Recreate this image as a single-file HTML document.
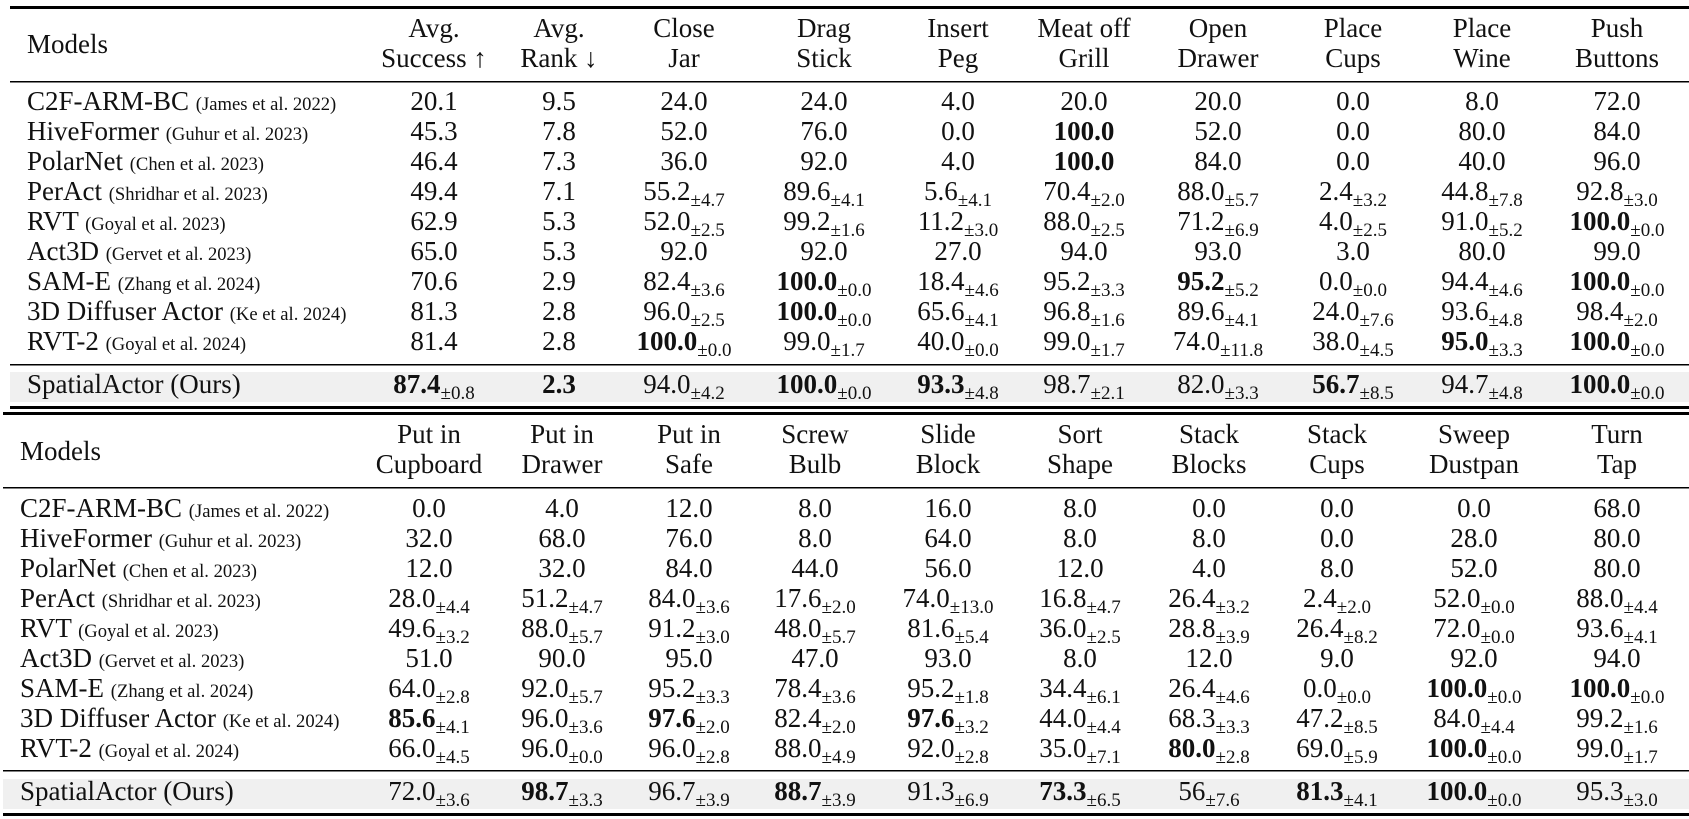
<!DOCTYPE html>
<html><head><meta charset="utf-8"><style>
html,body{margin:0;padding:0;background:#fff;}
svg{display:block;}
text{font-family:"Liberation Serif",serif;font-size:27px;fill:#111;}
.c text{text-anchor:middle;}
.s{font-size:19px;}
.b{font-weight:bold;}
.cit{font-size:18.6px;}
</style></head><body>
<svg width="1689" height="819" xmlns="http://www.w3.org/2000/svg">
<rect x="10" y="6" width="1679" height="3" fill="#000"/>
<rect x="10" y="81" width="1679" height="1.5" fill="#000"/>
<rect x="10" y="364" width="1679" height="1.5" fill="#000"/>
<rect x="10" y="372" width="1679" height="30" fill="#f0f0f0"/>
<rect x="10" y="406" width="1679" height="3" fill="#000"/>
<rect x="3" y="412" width="1686" height="3" fill="#000"/>
<rect x="3" y="487" width="1686" height="1.5" fill="#000"/>
<rect x="3" y="770" width="1686" height="1.5" fill="#000"/>
<rect x="3" y="779" width="1686" height="30" fill="#f0f0f0"/>
<rect x="3" y="813" width="1686" height="3" fill="#000"/>

<!-- top table -->
<text x="27" y="53">Models</text>
<g class="c">
<text x="434" y="37">Avg.</text><text x="434" y="67">Success ↑</text>
<text x="559" y="37">Avg.</text><text x="559" y="67">Rank ↓</text>
<text x="684" y="37">Close</text><text x="684" y="67">Jar</text>
<text x="824" y="37">Drag</text><text x="824" y="67">Stick</text>
<text x="958" y="37">Insert</text><text x="958" y="67">Peg</text>
<text x="1084" y="37">Meat off</text><text x="1084" y="67">Grill</text>
<text x="1218" y="37">Open</text><text x="1218" y="67">Drawer</text>
<text x="1353" y="37">Place</text><text x="1353" y="67">Cups</text>
<text x="1482" y="37">Place</text><text x="1482" y="67">Wine</text>
<text x="1617" y="37">Push</text><text x="1617" y="67">Buttons</text>
</g>

<text x="27" y="110">C2F-ARM-BC <tspan class="cit">(James et al. 2022)</tspan></text>
<text x="27" y="140">HiveFormer <tspan class="cit">(Guhur et al. 2023)</tspan></text>
<text x="27" y="170">PolarNet <tspan class="cit">(Chen et al. 2023)</tspan></text>
<text x="27" y="200">PerAct <tspan class="cit">(Shridhar et al. 2023)</tspan></text>
<text x="27" y="230">RVT <tspan class="cit">(Goyal et al. 2023)</tspan></text>
<text x="27" y="260">Act3D <tspan class="cit">(Gervet et al. 2023)</tspan></text>
<text x="27" y="290">SAM-E <tspan class="cit">(Zhang et al. 2024)</tspan></text>
<text x="27" y="320">3D Diffuser Actor <tspan class="cit">(Ke et al. 2024)</tspan></text>
<text x="27" y="350">RVT-2 <tspan class="cit">(Goyal et al. 2024)</tspan></text>
<text x="27" y="393">SpatialActor (Ours)</text>

<g class="c">
<text x="434" y="110">20.1</text><text x="559" y="110">9.5</text><text x="684" y="110">24.0</text><text x="824" y="110">24.0</text><text x="958" y="110">4.0</text><text x="1084" y="110">20.0</text><text x="1218" y="110">20.0</text><text x="1353" y="110">0.0</text><text x="1482" y="110">8.0</text><text x="1617" y="110">72.0</text>
<text x="434" y="140">45.3</text><text x="559" y="140">7.8</text><text x="684" y="140">52.0</text><text x="824" y="140">76.0</text><text x="958" y="140">0.0</text><text x="1084" y="140" class="b">100.0</text><text x="1218" y="140">52.0</text><text x="1353" y="140">0.0</text><text x="1482" y="140">80.0</text><text x="1617" y="140">84.0</text>
<text x="434" y="170">46.4</text><text x="559" y="170">7.3</text><text x="684" y="170">36.0</text><text x="824" y="170">92.0</text><text x="958" y="170">4.0</text><text x="1084" y="170" class="b">100.0</text><text x="1218" y="170">84.0</text><text x="1353" y="170">0.0</text><text x="1482" y="170">40.0</text><text x="1617" y="170">96.0</text>
<text x="434" y="200">49.4</text><text x="559" y="200">7.1</text>
<text x="684" y="200">55.2<tspan class="s" dy="6">±4.7</tspan></text>
<text x="824" y="200">89.6<tspan class="s" dy="6">±4.1</tspan></text>
<text x="958" y="200">5.6<tspan class="s" dy="6">±4.1</tspan></text>
<text x="1084" y="200">70.4<tspan class="s" dy="6">±2.0</tspan></text>
<text x="1218" y="200">88.0<tspan class="s" dy="6">±5.7</tspan></text>
<text x="1353" y="200">2.4<tspan class="s" dy="6">±3.2</tspan></text>
<text x="1482" y="200">44.8<tspan class="s" dy="6">±7.8</tspan></text>
<text x="1617" y="200">92.8<tspan class="s" dy="6">±3.0</tspan></text>
<text x="434" y="230">62.9</text><text x="559" y="230">5.3</text>
<text x="684" y="230">52.0<tspan class="s" dy="6">±2.5</tspan></text>
<text x="824" y="230">99.2<tspan class="s" dy="6">±1.6</tspan></text>
<text x="958" y="230">11.2<tspan class="s" dy="6">±3.0</tspan></text>
<text x="1084" y="230">88.0<tspan class="s" dy="6">±2.5</tspan></text>
<text x="1218" y="230">71.2<tspan class="s" dy="6">±6.9</tspan></text>
<text x="1353" y="230">4.0<tspan class="s" dy="6">±2.5</tspan></text>
<text x="1482" y="230">91.0<tspan class="s" dy="6">±5.2</tspan></text>
<text x="1617" y="230"><tspan class="b">100.0</tspan><tspan class="s" dy="6">±0.0</tspan></text>
<text x="434" y="260">65.0</text><text x="559" y="260">5.3</text><text x="684" y="260">92.0</text><text x="824" y="260">92.0</text><text x="958" y="260">27.0</text><text x="1084" y="260">94.0</text><text x="1218" y="260">93.0</text><text x="1353" y="260">3.0</text><text x="1482" y="260">80.0</text><text x="1617" y="260">99.0</text>
<text x="434" y="290">70.6</text><text x="559" y="290">2.9</text>
<text x="684" y="290">82.4<tspan class="s" dy="6">±3.6</tspan></text>
<text x="824" y="290"><tspan class="b">100.0</tspan><tspan class="s" dy="6">±0.0</tspan></text>
<text x="958" y="290">18.4<tspan class="s" dy="6">±4.6</tspan></text>
<text x="1084" y="290">95.2<tspan class="s" dy="6">±3.3</tspan></text>
<text x="1218" y="290"><tspan class="b">95.2</tspan><tspan class="s" dy="6">±5.2</tspan></text>
<text x="1353" y="290">0.0<tspan class="s" dy="6">±0.0</tspan></text>
<text x="1482" y="290">94.4<tspan class="s" dy="6">±4.6</tspan></text>
<text x="1617" y="290"><tspan class="b">100.0</tspan><tspan class="s" dy="6">±0.0</tspan></text>
<text x="434" y="320">81.3</text><text x="559" y="320">2.8</text>
<text x="684" y="320">96.0<tspan class="s" dy="6">±2.5</tspan></text>
<text x="824" y="320"><tspan class="b">100.0</tspan><tspan class="s" dy="6">±0.0</tspan></text>
<text x="958" y="320">65.6<tspan class="s" dy="6">±4.1</tspan></text>
<text x="1084" y="320">96.8<tspan class="s" dy="6">±1.6</tspan></text>
<text x="1218" y="320">89.6<tspan class="s" dy="6">±4.1</tspan></text>
<text x="1353" y="320">24.0<tspan class="s" dy="6">±7.6</tspan></text>
<text x="1482" y="320">93.6<tspan class="s" dy="6">±4.8</tspan></text>
<text x="1617" y="320">98.4<tspan class="s" dy="6">±2.0</tspan></text>
<text x="434" y="350">81.4</text><text x="559" y="350">2.8</text>
<text x="684" y="350"><tspan class="b">100.0</tspan><tspan class="s" dy="6">±0.0</tspan></text>
<text x="824" y="350">99.0<tspan class="s" dy="6">±1.7</tspan></text>
<text x="958" y="350">40.0<tspan class="s" dy="6">±0.0</tspan></text>
<text x="1084" y="350">99.0<tspan class="s" dy="6">±1.7</tspan></text>
<text x="1218" y="350">74.0<tspan class="s" dy="6">±11.8</tspan></text>
<text x="1353" y="350">38.0<tspan class="s" dy="6">±4.5</tspan></text>
<text x="1482" y="350"><tspan class="b">95.0</tspan><tspan class="s" dy="6">±3.3</tspan></text>
<text x="1617" y="350"><tspan class="b">100.0</tspan><tspan class="s" dy="6">±0.0</tspan></text>
<text x="434" y="393"><tspan class="b">87.4</tspan><tspan class="s" dy="6">±0.8</tspan></text>
<text x="559" y="393" class="b">2.3</text>
<text x="684" y="393">94.0<tspan class="s" dy="6">±4.2</tspan></text>
<text x="824" y="393"><tspan class="b">100.0</tspan><tspan class="s" dy="6">±0.0</tspan></text>
<text x="958" y="393"><tspan class="b">93.3</tspan><tspan class="s" dy="6">±4.8</tspan></text>
<text x="1084" y="393">98.7<tspan class="s" dy="6">±2.1</tspan></text>
<text x="1218" y="393">82.0<tspan class="s" dy="6">±3.3</tspan></text>
<text x="1353" y="393"><tspan class="b">56.7</tspan><tspan class="s" dy="6">±8.5</tspan></text>
<text x="1482" y="393">94.7<tspan class="s" dy="6">±4.8</tspan></text>
<text x="1617" y="393"><tspan class="b">100.0</tspan><tspan class="s" dy="6">±0.0</tspan></text>
</g>

<!-- bottom table -->
<text x="20" y="460">Models</text>
<g class="c">
<text x="429" y="443">Put in</text><text x="429" y="473">Cupboard</text>
<text x="562" y="443">Put in</text><text x="562" y="473">Drawer</text>
<text x="689" y="443">Put in</text><text x="689" y="473">Safe</text>
<text x="815" y="443">Screw</text><text x="815" y="473">Bulb</text>
<text x="948" y="443">Slide</text><text x="948" y="473">Block</text>
<text x="1080" y="443">Sort</text><text x="1080" y="473">Shape</text>
<text x="1209" y="443">Stack</text><text x="1209" y="473">Blocks</text>
<text x="1337" y="443">Stack</text><text x="1337" y="473">Cups</text>
<text x="1474" y="443">Sweep</text><text x="1474" y="473">Dustpan</text>
<text x="1617" y="443">Turn</text><text x="1617" y="473">Tap</text>
</g>
<text x="20" y="517">C2F-ARM-BC <tspan class="cit">(James et al. 2022)</tspan></text>
<text x="20" y="547">HiveFormer <tspan class="cit">(Guhur et al. 2023)</tspan></text>
<text x="20" y="577">PolarNet <tspan class="cit">(Chen et al. 2023)</tspan></text>
<text x="20" y="607">PerAct <tspan class="cit">(Shridhar et al. 2023)</tspan></text>
<text x="20" y="637">RVT <tspan class="cit">(Goyal et al. 2023)</tspan></text>
<text x="20" y="667">Act3D <tspan class="cit">(Gervet et al. 2023)</tspan></text>
<text x="20" y="697">SAM-E <tspan class="cit">(Zhang et al. 2024)</tspan></text>
<text x="20" y="727">3D Diffuser Actor <tspan class="cit">(Ke et al. 2024)</tspan></text>
<text x="20" y="757">RVT-2 <tspan class="cit">(Goyal et al. 2024)</tspan></text>
<text x="20" y="800">SpatialActor (Ours)</text>

<g class="c">
<text x="429" y="517">0.0</text><text x="562" y="517">4.0</text><text x="689" y="517">12.0</text><text x="815" y="517">8.0</text><text x="948" y="517">16.0</text><text x="1080" y="517">8.0</text><text x="1209" y="517">0.0</text><text x="1337" y="517">0.0</text><text x="1474" y="517">0.0</text><text x="1617" y="517">68.0</text>
<text x="429" y="547">32.0</text><text x="562" y="547">68.0</text><text x="689" y="547">76.0</text><text x="815" y="547">8.0</text><text x="948" y="547">64.0</text><text x="1080" y="547">8.0</text><text x="1209" y="547">8.0</text><text x="1337" y="547">0.0</text><text x="1474" y="547">28.0</text><text x="1617" y="547">80.0</text>
<text x="429" y="577">12.0</text><text x="562" y="577">32.0</text><text x="689" y="577">84.0</text><text x="815" y="577">44.0</text><text x="948" y="577">56.0</text><text x="1080" y="577">12.0</text><text x="1209" y="577">4.0</text><text x="1337" y="577">8.0</text><text x="1474" y="577">52.0</text><text x="1617" y="577">80.0</text>
<text x="429" y="607">28.0<tspan class="s" dy="6">±4.4</tspan></text>
<text x="562" y="607">51.2<tspan class="s" dy="6">±4.7</tspan></text>
<text x="689" y="607">84.0<tspan class="s" dy="6">±3.6</tspan></text>
<text x="815" y="607">17.6<tspan class="s" dy="6">±2.0</tspan></text>
<text x="948" y="607">74.0<tspan class="s" dy="6">±13.0</tspan></text>
<text x="1080" y="607">16.8<tspan class="s" dy="6">±4.7</tspan></text>
<text x="1209" y="607">26.4<tspan class="s" dy="6">±3.2</tspan></text>
<text x="1337" y="607">2.4<tspan class="s" dy="6">±2.0</tspan></text>
<text x="1474" y="607">52.0<tspan class="s" dy="6">±0.0</tspan></text>
<text x="1617" y="607">88.0<tspan class="s" dy="6">±4.4</tspan></text>
<text x="429" y="637">49.6<tspan class="s" dy="6">±3.2</tspan></text>
<text x="562" y="637">88.0<tspan class="s" dy="6">±5.7</tspan></text>
<text x="689" y="637">91.2<tspan class="s" dy="6">±3.0</tspan></text>
<text x="815" y="637">48.0<tspan class="s" dy="6">±5.7</tspan></text>
<text x="948" y="637">81.6<tspan class="s" dy="6">±5.4</tspan></text>
<text x="1080" y="637">36.0<tspan class="s" dy="6">±2.5</tspan></text>
<text x="1209" y="637">28.8<tspan class="s" dy="6">±3.9</tspan></text>
<text x="1337" y="637">26.4<tspan class="s" dy="6">±8.2</tspan></text>
<text x="1474" y="637">72.0<tspan class="s" dy="6">±0.0</tspan></text>
<text x="1617" y="637">93.6<tspan class="s" dy="6">±4.1</tspan></text>
<text x="429" y="667">51.0</text><text x="562" y="667">90.0</text><text x="689" y="667">95.0</text><text x="815" y="667">47.0</text><text x="948" y="667">93.0</text><text x="1080" y="667">8.0</text><text x="1209" y="667">12.0</text><text x="1337" y="667">9.0</text><text x="1474" y="667">92.0</text><text x="1617" y="667">94.0</text>
<text x="429" y="697">64.0<tspan class="s" dy="6">±2.8</tspan></text>
<text x="562" y="697">92.0<tspan class="s" dy="6">±5.7</tspan></text>
<text x="689" y="697">95.2<tspan class="s" dy="6">±3.3</tspan></text>
<text x="815" y="697">78.4<tspan class="s" dy="6">±3.6</tspan></text>
<text x="948" y="697">95.2<tspan class="s" dy="6">±1.8</tspan></text>
<text x="1080" y="697">34.4<tspan class="s" dy="6">±6.1</tspan></text>
<text x="1209" y="697">26.4<tspan class="s" dy="6">±4.6</tspan></text>
<text x="1337" y="697">0.0<tspan class="s" dy="6">±0.0</tspan></text>
<text x="1474" y="697"><tspan class="b">100.0</tspan><tspan class="s" dy="6">±0.0</tspan></text>
<text x="1617" y="697"><tspan class="b">100.0</tspan><tspan class="s" dy="6">±0.0</tspan></text>
<text x="429" y="727"><tspan class="b">85.6</tspan><tspan class="s" dy="6">±4.1</tspan></text>
<text x="562" y="727">96.0<tspan class="s" dy="6">±3.6</tspan></text>
<text x="689" y="727"><tspan class="b">97.6</tspan><tspan class="s" dy="6">±2.0</tspan></text>
<text x="815" y="727">82.4<tspan class="s" dy="6">±2.0</tspan></text>
<text x="948" y="727"><tspan class="b">97.6</tspan><tspan class="s" dy="6">±3.2</tspan></text>
<text x="1080" y="727">44.0<tspan class="s" dy="6">±4.4</tspan></text>
<text x="1209" y="727">68.3<tspan class="s" dy="6">±3.3</tspan></text>
<text x="1337" y="727">47.2<tspan class="s" dy="6">±8.5</tspan></text>
<text x="1474" y="727">84.0<tspan class="s" dy="6">±4.4</tspan></text>
<text x="1617" y="727">99.2<tspan class="s" dy="6">±1.6</tspan></text>
<text x="429" y="757">66.0<tspan class="s" dy="6">±4.5</tspan></text>
<text x="562" y="757">96.0<tspan class="s" dy="6">±0.0</tspan></text>
<text x="689" y="757">96.0<tspan class="s" dy="6">±2.8</tspan></text>
<text x="815" y="757">88.0<tspan class="s" dy="6">±4.9</tspan></text>
<text x="948" y="757">92.0<tspan class="s" dy="6">±2.8</tspan></text>
<text x="1080" y="757">35.0<tspan class="s" dy="6">±7.1</tspan></text>
<text x="1209" y="757"><tspan class="b">80.0</tspan><tspan class="s" dy="6">±2.8</tspan></text>
<text x="1337" y="757">69.0<tspan class="s" dy="6">±5.9</tspan></text>
<text x="1474" y="757"><tspan class="b">100.0</tspan><tspan class="s" dy="6">±0.0</tspan></text>
<text x="1617" y="757">99.0<tspan class="s" dy="6">±1.7</tspan></text>
<text x="429" y="800">72.0<tspan class="s" dy="6">±3.6</tspan></text>
<text x="562" y="800"><tspan class="b">98.7</tspan><tspan class="s" dy="6">±3.3</tspan></text>
<text x="689" y="800">96.7<tspan class="s" dy="6">±3.9</tspan></text>
<text x="815" y="800"><tspan class="b">88.7</tspan><tspan class="s" dy="6">±3.9</tspan></text>
<text x="948" y="800">91.3<tspan class="s" dy="6">±6.9</tspan></text>
<text x="1080" y="800"><tspan class="b">73.3</tspan><tspan class="s" dy="6">±6.5</tspan></text>
<text x="1209" y="800">56<tspan class="s" dy="6">±7.6</tspan></text>
<text x="1337" y="800"><tspan class="b">81.3</tspan><tspan class="s" dy="6">±4.1</tspan></text>
<text x="1474" y="800"><tspan class="b">100.0</tspan><tspan class="s" dy="6">±0.0</tspan></text>
<text x="1617" y="800">95.3<tspan class="s" dy="6">±3.0</tspan></text>
</g>
</svg>
</body></html>
